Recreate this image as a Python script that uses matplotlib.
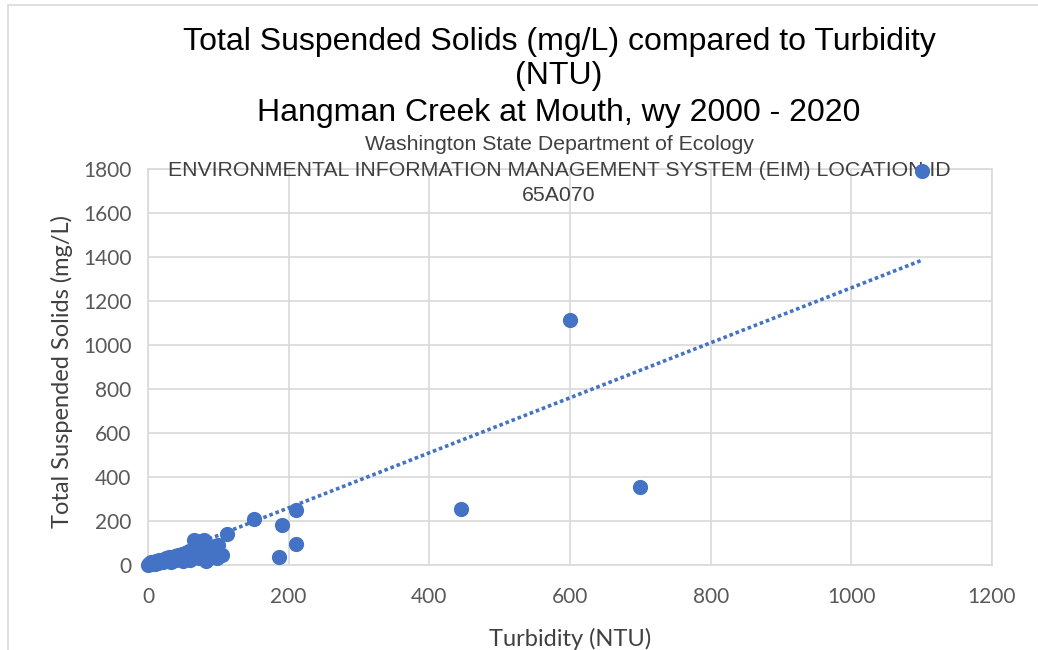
import matplotlib.pyplot as plt
from matplotlib.patches import Rectangle

# Turbidity (NTU) vs Total Suspended Solids (mg/L)
turbidity = [0.5, 1, 2, 3, 4, 5, 6, 8, 10, 12, 14, 16, 18, 20, 22, 25, 28, 30, 32, 35,
             38, 40, 42, 45, 48, 50, 52, 55, 58, 60, 62, 65, 66, 70, 72, 75, 78, 80,
             82, 85, 88, 90, 95, 98, 100, 105, 112, 150, 186, 190, 210, 210, 445, 600,
             700, 1100]
tss = [2, 5, 3, 8, 12, 4, 15, 10, 6, 18, 9, 22, 12, 25, 15, 30, 20, 35, 14, 28,
       40, 22, 45, 32, 50, 18, 55, 38, 62, 25, 48, 115, 70, 95, 30, 110, 55, 112,
       20, 75, 40, 60, 85, 30, 90, 45, 140, 210, 36, 180, 96, 252, 255, 1112,
       355, 1790]

# linear trendline as shown on the chart
trend_slope = 1.25
trend_intercept = 10

x_ticks = [0, 200, 400, 600, 800, 1000, 1200]
y_ticks = [0, 200, 400, 600, 800, 1000, 1200, 1400, 1600, 1800]

blue = '#4472C4'
grid = '#D9D9D9'
label_grey = '#595959'

fig = plt.figure(figsize=(10.38, 6.5), dpi=100)
ax = fig.add_axes([148 / 1038, 1 - 565 / 650, 844 / 1038, 396 / 650])

ax.scatter(turbidity, tss, s=120, color=blue, zorder=4, linewidths=0, clip_on=False)

x0, x1 = min(turbidity), max(turbidity)
ax.plot([x0, x1], [trend_slope * x0 + trend_intercept, trend_slope * x1 + trend_intercept],
        color=blue, linestyle=(0, (1, 0.8)), linewidth=2.6, zorder=2)

ax.set_xlim(0, 1200)
ax.set_ylim(0, 1800)
ax.set_xticks(x_ticks)
ax.set_yticks(y_ticks)
ax.grid(True, color=grid, linewidth=1.2, zorder=0)
ax.set_axisbelow(True)
for sp in ax.spines.values():
    sp.set_color(grid)
    sp.set_linewidth(1.2)
ax.tick_params(length=0, labelcolor=label_grey, labelsize=15)
ax.tick_params(axis='x', pad=16)
ax.tick_params(axis='y', pad=12)
for lab in ax.get_xticklabels() + ax.get_yticklabels():
    lab.set_family('Lato')

ax.set_xlabel('Turbidity (NTU)', fontsize=17, color='#404040', family='Lato', va='center')
ax.set_ylabel('Total Suspended Solids (mg/L)', fontsize=17, color='#404040', family='Lato', va='center')
ax.xaxis.set_label_coords((570 - 148) / 844, (565 - 639) / 396)
ax.yaxis.set_label_coords((62 - 148) / 844, (565 - 371) / 396)

cx = 559 / 1038
title_kw = dict(ha='center', va='center', fontsize=23, family='Liberation Sans', color='black')
fig.text(cx, 1 - 42 / 650, 'Total Suspended Solids (mg/L) compared to Turbidity', **title_kw)
fig.text(cx, 1 - 76 / 650, '(NTU)', **title_kw)
fig.text(cx, 1 - 113 / 650, 'Hangman Creek at Mouth, wy 2000 - 2020', **title_kw)
# subtitle sits over the gridlines but under the markers
sub_kw = dict(ha='center', va='center', fontsize=15.3, family='Liberation Sans', color='#404040',
              zorder=3, transform=fig.transFigure)
ax.text(cx, 1 - 145 / 650, 'Washington State Department of Ecology', **sub_kw)
ax.text(cx, 1 - 170 / 650, 'ENVIRONMENTAL INFORMATION MANAGEMENT SYSTEM (EIM) LOCATION ID', **sub_kw)
ax.text(cx, 1 - 195 / 650, '65A070', **sub_kw)

# chart area border (cropped on right and bottom)
fig.patches.append(Rectangle((8 / 1038, -0.1), 1.2, 1 - 5 / 650 + 0.1, transform=fig.transFigure,
                             fill=False, edgecolor=grid, linewidth=1.2))

fig.savefig('out.png', dpi=100)
